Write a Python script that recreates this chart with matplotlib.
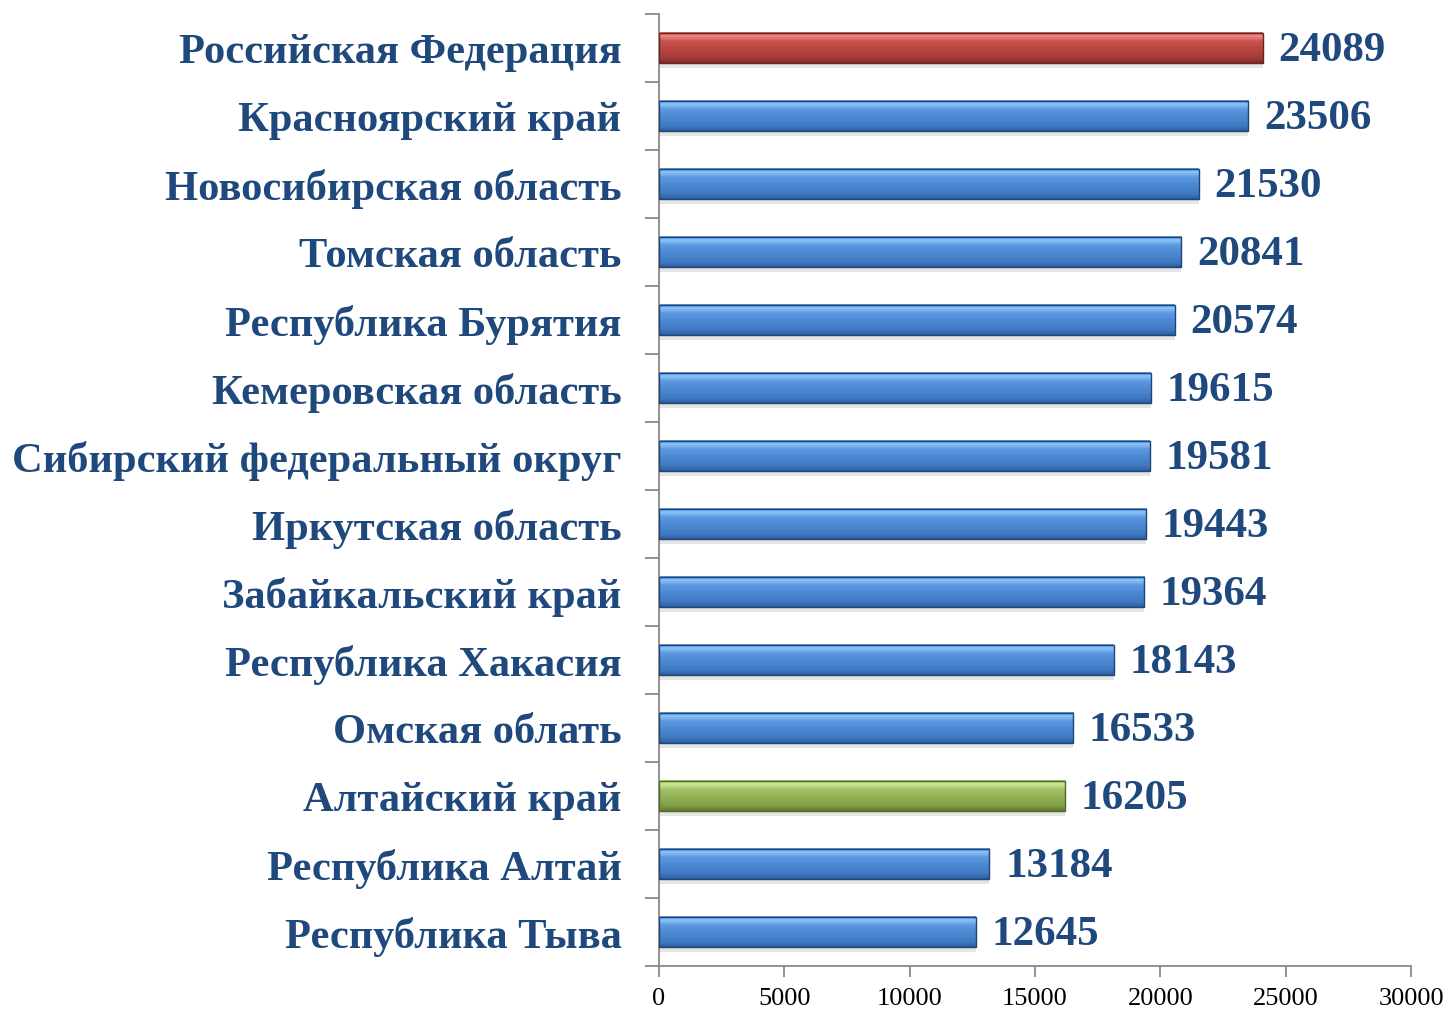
import matplotlib
matplotlib.use("Agg")
import matplotlib.pyplot as plt
import numpy as np
from matplotlib.colors import LinearSegmentedColormap

categories = ["Российская Федерация", "Красноярский край", "Новосибирская область",
              "Томская область", "Республика Бурятия", "Кемеровская область",
              "Сибирский федеральный округ", "Иркутская область", "Забайкальский край",
              "Республика Хакасия", "Омская облать", "Алтайский край",
              "Республика Алтай", "Республика Тыва"]
values = [24089, 23506, 21530, 20841, 20574, 19615, 19581, 19443, 19364,
          18143, 16533, 16205, 13184, 12645]
kinds = ["red"] + ["blue"] * 10 + ["green"] + ["blue"] * 2
xticks = [0, 5000, 10000, 15000, 20000, 25000, 30000]

# gradient stops top -> bottom
palettes = {
    "blue": ["#5E9BE6", "#8CC4F6", "#5C98E0", "#4A86D0", "#3F78C0", "#2E5D9C"],
    "red": ["#D46A66", "#EC8A86", "#C9524E", "#B4433F", "#A23B37", "#7E2A28"],
    "green": ["#A9C86E", "#CDE89A", "#A4C267", "#8FAE52", "#7F9C46", "#5E7A30"],
}
edges = {"blue": "#1E4478", "red": "#6E2220", "green": "#4F6A28"}
text_color = "#1F497D"

fig = plt.figure(figsize=(14.49, 10.09), dpi=100)
ax = fig.add_axes([659 / 1449, 1 - 966 / 1009, (1411 - 659) / 1449, (966 - 14) / 1009])

n = len(categories)
ypos = np.arange(n)
bh = 0.455
ax.set_xlim(0, 30000)
ax.set_ylim(n - 0.5, -0.5)

# shadows
ax.barh(ypos + 0.07, values, height=bh, left=0, color="#000000", alpha=0.10, zorder=1)
bars = ax.barh(ypos, values, height=bh, color="none", edgecolor="none", zorder=2)
for bar, kind in zip(bars, kinds):
    p = palettes[kind]
    cmap = LinearSegmentedColormap.from_list(kind, [
        (0.0, p[0]), (0.12, p[1]), (0.3, p[2]), (0.6, p[3]), (0.85, p[4]), (1.0, p[5])])
    x0, y0 = bar.get_x(), bar.get_y()
    w, h = bar.get_width(), bar.get_height()
    grad = np.linspace(0, 1, 64).reshape(-1, 1)
    ax.imshow(grad, cmap=cmap, aspect="auto", extent=(x0, x0 + w, y0 + h, y0),
              origin="upper", zorder=3, interpolation="bilinear")
    ax.add_patch(plt.Rectangle((x0, y0), w, h, fill=False, edgecolor=edges[kind],
                               linewidth=1.0, zorder=4))
ax.set_ylim(n - 0.5, -0.5)
ax.set_xlim(0, 30000)

for y, v in zip(ypos, values):
    ax.text(v + 620, y + 0.05, f"{v}", va="center", ha="left", fontsize=31,
            fontweight="bold", color=text_color, family="Liberation Serif", zorder=5)

ax.set_yticks(np.arange(n + 1) - 0.5)
ax.set_yticklabels([])
ax.set_yticks(ypos, minor=True)
ax.set_yticklabels(categories, minor=True, fontsize=30.6, fontweight="bold",
                   color=text_color, family="Liberation Serif")
ax.tick_params(axis="y", which="minor", length=0, pad=27)
ax.tick_params(axis="y", which="major", length=10, color="#888888", width=1.3)
ax.set_xticks(xticks)
ax.set_xticklabels([str(t) for t in xticks], fontsize=19, family="Liberation Serif")
ax.tick_params(axis="x", length=8, color="#888888", width=1.3, pad=8)

for s in ["top", "right"]:
    ax.spines[s].set_visible(False)
for s in ["left", "bottom"]:
    ax.spines[s].set_color("#888888")
    ax.spines[s].set_linewidth(1.3)

fig.savefig("out.png", dpi=100)
